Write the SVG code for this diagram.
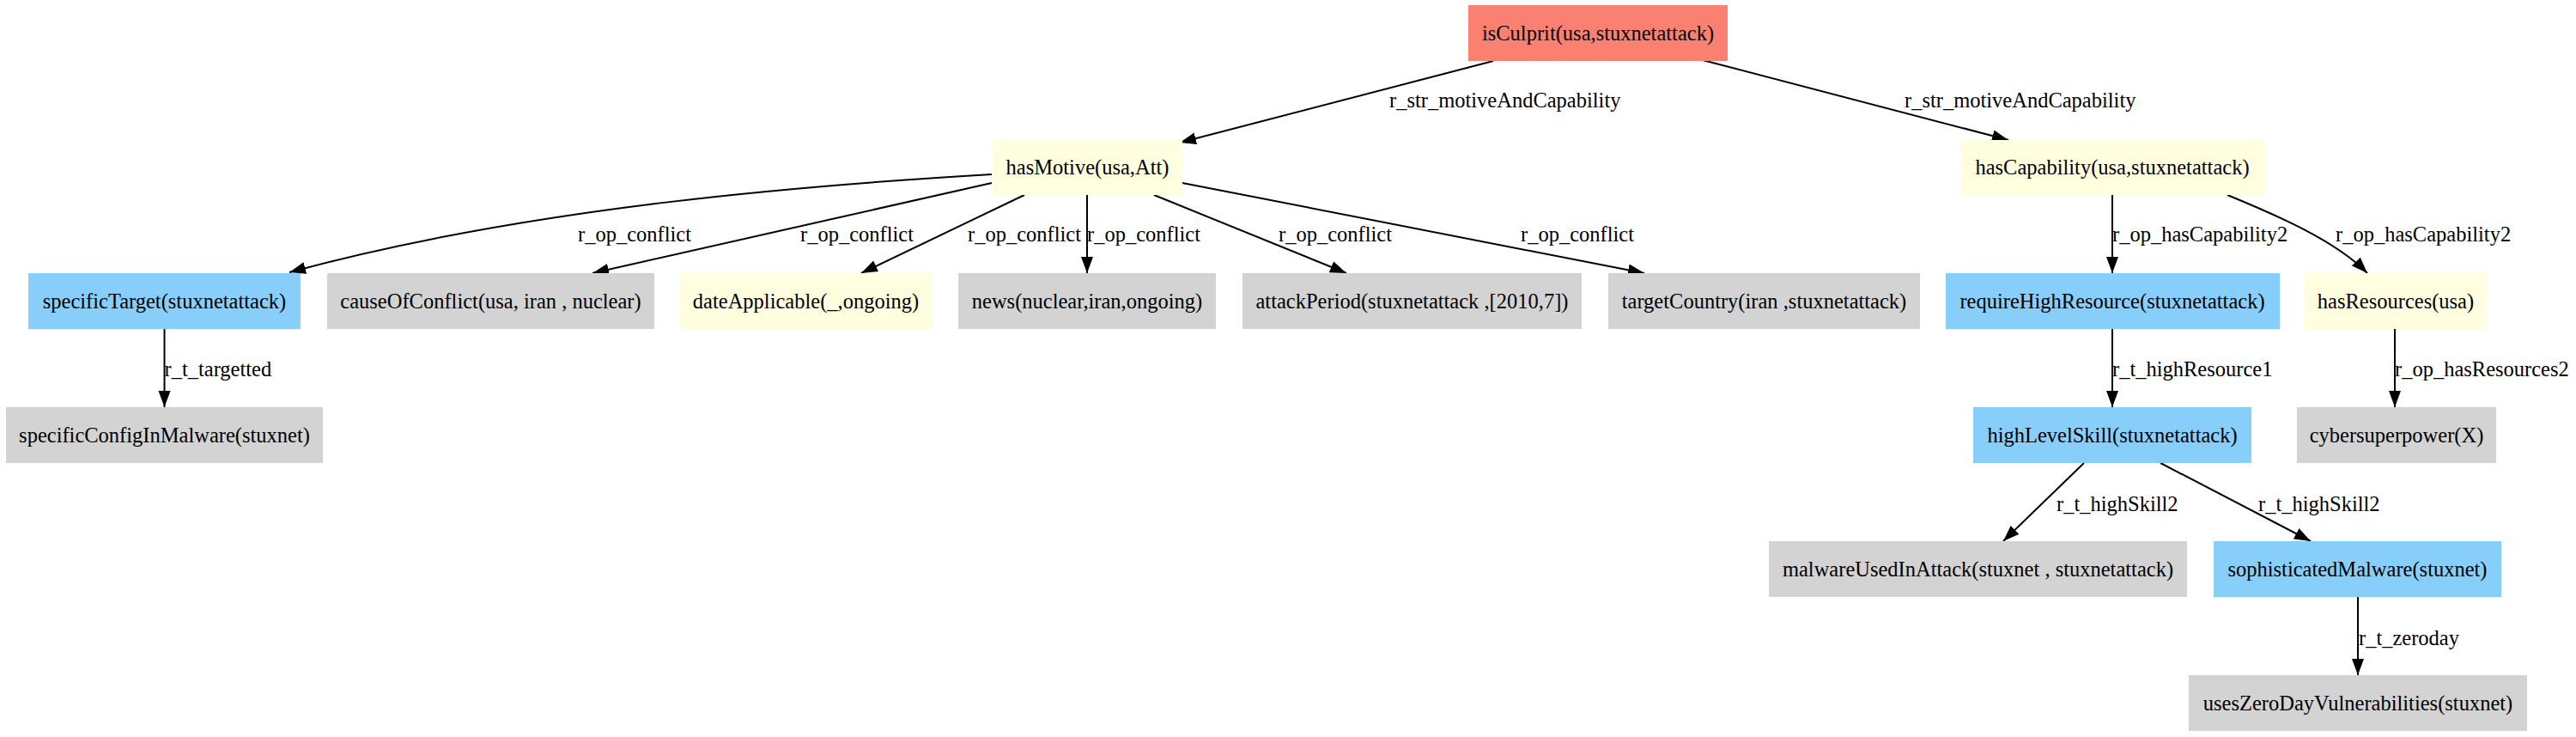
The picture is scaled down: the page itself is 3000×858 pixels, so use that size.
<svg xmlns="http://www.w3.org/2000/svg" width="3000" height="858" viewBox="0 0 3000 858">
<style>
text{font-family:"Liberation Serif","Times New Roman",serif;font-size:24.5px;fill:#000}
.n text{text-anchor:middle}
.red{fill:#fa8072}
.yel{fill:#ffffe0}
.blu{fill:#87cefa}
.gry{fill:#d3d3d3}
.e path{fill:none;stroke:#000;stroke-width:2;marker-end:url(#ah)}
.lbl text{text-anchor:start}
</style>
<defs>
<marker id="ah" markerUnits="userSpaceOnUse" markerWidth="22" markerHeight="16" refX="19" refY="7.5" orient="auto">
<path d="M0,0.5 L19,7.5 L0,14.5 Z" fill="#000"/>
</marker>
</defs>
<rect width="3000" height="858" fill="#fff"/>
<g id="edges" class="e">
<path d="M1739,71 L1374,166"/>
<path d="M1983,70 L2339,163"/>
<path d="M1155,203 C950,215 620,240 337,317"/>
<path d="M1155,213 L690,318"/>
<path d="M1193,227 L1003,318"/>
<path d="M1266,227 L1266,318"/>
<path d="M1344,227 L1568,318"/>
<path d="M1377,213 L1915,318"/>
<path d="M2460,227 L2460,318"/>
<path d="M2594,227 C2650,250 2720,280 2757,318"/>
<path d="M2789,383 L2789,474"/>
<path d="M191.5,383 L191.5,474"/>
<path d="M2460,383 L2460,474"/>
<path d="M2427,539 L2333,630"/>
<path d="M2516,539 L2691,630"/>
<path d="M2746,695 L2746,786"/>
</g>
<g id="edge-labels" class="lbl">
<text x="1618" y="125">r_str_motiveAndCapability</text>
<text x="2218" y="125">r_str_motiveAndCapability</text>
<text x="673" y="281">r_op_conflict</text>
<text x="932" y="281">r_op_conflict</text>
<text x="1127" y="281">r_op_conflict</text>
<text x="1266" y="281">r_op_conflict</text>
<text x="1489" y="281">r_op_conflict</text>
<text x="1771" y="281">r_op_conflict</text>
<text x="2460" y="281">r_op_hasCapability2</text>
<text x="2720" y="281">r_op_hasCapability2</text>
<text x="191.5" y="438">r_t_targetted</text>
<text x="2460" y="438">r_t_highResource1</text>
<text x="2789" y="438">r_op_hasResources2</text>
<text x="2395" y="595">r_t_highSkill2</text>
<text x="2630" y="595">r_t_highSkill2</text>
<text x="2747" y="751">r_t_zeroday</text>
</g>
<g id="isCulprit" class="n"><rect class="red" x="1710" y="6" width="302" height="65"/><text x="1861" y="47">isCulprit(usa,stuxnetattack)</text></g>
<g id="hasMotive" class="n"><rect class="yel" x="1156" y="163" width="221" height="64"/><text x="1266.5" y="203">hasMotive(usa,Att)</text></g>
<g id="hasCapability" class="n"><rect class="yel" x="2284" y="163" width="353" height="64"/><text x="2460" y="203">hasCapability(usa,stuxnetattack)</text></g>
<g id="specificTarget" class="n"><rect class="blu" x="33" y="318" width="317" height="65"/><text x="191.5" y="359">specificTarget(stuxnetattack)</text></g>
<g id="causeOfConflict" class="n"><rect class="gry" x="381" y="318" width="381" height="65"/><text x="571.5" y="359">causeOfConflict(usa, iran , nuclear)</text></g>
<g id="dateApplicable" class="n"><rect class="yel" x="791" y="318" width="295" height="65"/><text x="938.5" y="359">dateApplicable(_,ongoing)</text></g>
<g id="news" class="n"><rect class="gry" x="1116" y="318" width="300" height="65"/><text x="1266" y="359">news(nuclear,iran,ongoing)</text></g>
<g id="attackPeriod" class="n"><rect class="gry" x="1447" y="318" width="395" height="65"/><text x="1644.5" y="359">attackPeriod(stuxnetattack ,[2010,7])</text></g>
<g id="targetCountry" class="n"><rect class="gry" x="1873" y="318" width="363" height="65"/><text x="2054.5" y="359">targetCountry(iran ,stuxnetattack)</text></g>
<g id="requireHighResource" class="n"><rect class="blu" x="2266" y="318" width="389" height="65"/><text x="2460" y="359">requireHighResource(stuxnetattack)</text></g>
<g id="hasResources" class="n"><rect class="yel" x="2684" y="318" width="212" height="65"/><text x="2790" y="359">hasResources(usa)</text></g>
<g id="specificConfigInMalware" class="n"><rect class="gry" x="7" y="474" width="369" height="65"/><text x="191.5" y="515">specificConfigInMalware(stuxnet)</text></g>
<g id="highLevelSkill" class="n"><rect class="blu" x="2298" y="474" width="324" height="65"/><text x="2460" y="515">highLevelSkill(stuxnetattack)</text></g>
<g id="cybersuperpower" class="n"><rect class="gry" x="2675" y="474" width="232" height="65"/><text x="2791" y="515">cybersuperpower(X)</text></g>
<g id="malwareUsedInAttack" class="n"><rect class="gry" x="2060" y="630" width="487" height="65"/><text x="2303.5" y="671">malwareUsedInAttack(stuxnet , stuxnetattack)</text></g>
<g id="sophisticatedMalware" class="n"><rect class="blu" x="2578" y="630" width="335" height="65"/><text x="2745.5" y="671">sophisticatedMalware(stuxnet)</text></g>
<g id="usesZeroDayVulnerabilities" class="n"><rect class="gry" x="2549" y="786" width="394" height="65"/><text x="2746" y="827">usesZeroDayVulnerabilities(stuxnet)</text></g>
</svg>
